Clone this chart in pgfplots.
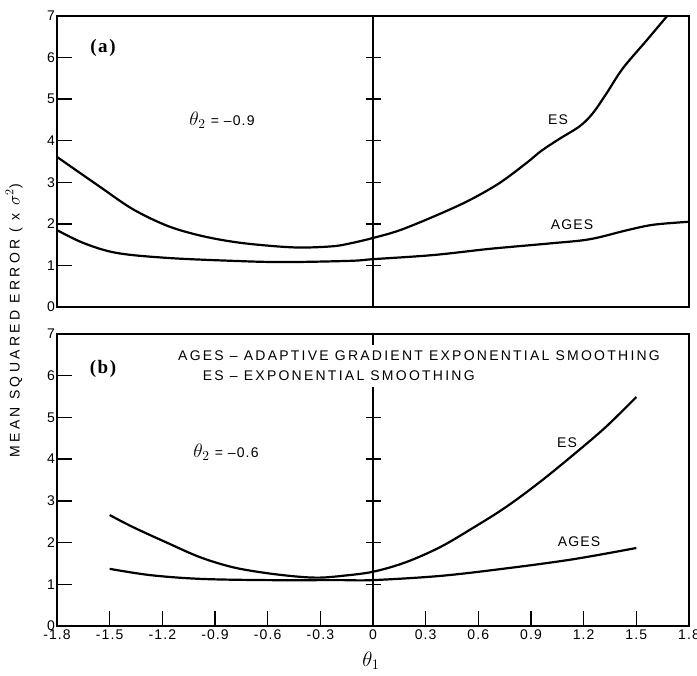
\documentclass[border=0pt]{standalone}
\usepackage{fontspec}
\usepackage{graphicx}
\setmainfont{Liberation Sans}
\newfontfamily\serifab{Liberation Serif}
\usepackage{pgfplots}
\pgfplotsset{compat=1.18}

\pgfplotstableread{
x y
-1.8 3.61
-1.555 2.89
-1.367 2.35
-1.17 1.95
-0.986 1.72
-0.80 1.57
-0.61 1.48
-0.42 1.43
-0.23 1.46
-0.13 1.53
0 1.66
0.155 1.85
0.37 2.22
0.55 2.57
0.72 2.98
0.876 3.47
0.96 3.76
1.064 4.05
1.178 4.35
1.252 4.66
1.332 5.15
1.423 5.74
1.56 6.42
1.69 7.07
1.74 7.3
}\topes
\pgfplotstableread{
x y
-1.8 1.85
-1.65 1.54
-1.46 1.30
-1.17 1.18
-0.80 1.11
-0.51 1.08
-0.13 1.11
0 1.15
0.345 1.25
0.668 1.40
1.01 1.53
1.235 1.63
1.45 1.85
1.6 1.98
1.8 2.05
}\topages
\pgfplotstableread{
x y
-1.5 2.66
-1.367 2.37
-1.17 1.99
-0.986 1.65
-0.80 1.41
-0.61 1.27
-0.42 1.18
-0.30 1.16
-0.18 1.20
0 1.30
0.188 1.53
0.382 1.89
0.569 2.35
0.757 2.85
0.95 3.45
1.14 4.10
1.326 4.77
1.5 5.49
}\botes
\pgfplotstableread{
x y
-1.5 1.37
-1.27 1.22
-0.986 1.13
-0.61 1.10
-0.2 1.10
0 1.10
0.382 1.20
0.757 1.38
1.14 1.60
1.5 1.87
}\botages

\newcommand\lab{\fontsize{14}{16}\selectfont\addfontfeatures{LetterSpace=8}}

\begin{document}
\begin{tikzpicture}
\path[use as bounding box] (0pt,0pt) rectangle (697pt,676pt);
\pgfplotsset{
  panel/.style={
    scale only axis, width=632pt,
    xmin=-1.8, xmax=1.8, ymin=0, ymax=7,
    axis line style={line width=1.4pt},
    tick align=inside, major tick length=15pt,
    every tick/.style={black, line width=1.4pt},
    ytick={0,1,2,3,4,5,6,7},
    yticklabels={0,1,2,3,4,5,6,7},
    yticklabel style={font=\lab, inner sep=2pt},
    xticklabel style={font=\lab},
    ytick pos=left, xtick pos=bottom,
    anchor=south west,
  },
  curve/.style={black, line width=2.2pt, smooth, tension=0.55, no marks},
}
% top panel
\begin{axis}[panel, at={(57pt,369pt)}, height=291pt, xtick=\empty]
\draw[line width=1.4pt] (axis cs:0,0) -- (axis cs:0,7);
\pgfplotsinvokeforeach{1,2,3,4,5,6}{
  \draw[line width=1.4pt] ([xshift=-7.5pt]axis cs:0,#1) -- ([xshift=7.5pt]axis cs:0,#1);
}
\addplot[curve] table[x=x,y=y] {\topes};
\addplot[curve] table[x=x,y=y] {\topages};
\end{axis}
% bottom panel
\begin{axis}[panel, at={(57pt,50pt)}, height=292pt,
  xtick={-1.8,-1.5,-1.2,-0.9,-0.6,-0.3,0,0.3,0.6,0.9,1.2,1.5,1.8},
  xticklabels={-1.8,-1.5,-1.2,-0.9,-0.6,-0.3,0,0.3,0.6,0.9,1.2,1.5,1.8}]
\draw[line width=1.4pt] (axis cs:0,0) -- (axis cs:0,7);
\pgfplotsinvokeforeach{1,2,3,4,5}{
  \draw[line width=1.4pt] ([xshift=-7.5pt]axis cs:0,#1) -- ([xshift=7.5pt]axis cs:0,#1);
}
\addplot[curve] table[x=x,y=y] {\botes};
\addplot[curve] table[x=x,y=y] {\botages};
\end{axis}

% texts
\node[font=\serifab\bfseries\fontsize{19}{21}\selectfont\addfontfeatures{LetterSpace=8}] at (103pt,628pt) {(a)};
\node[font=\serifab\bfseries\fontsize{19}{21}\selectfont\addfontfeatures{LetterSpace=8}] at (103pt,307pt) {(b)};
\node[font=\fontsize{14}{17}\selectfont\addfontfeatures{LetterSpace=8}] at (222pt,556pt) {\scalebox{1.35}{$\theta_2$} = --0.9};
\node[font=\fontsize{14}{17}\selectfont\addfontfeatures{LetterSpace=8}] at (226pt,224pt) {\scalebox{1.35}{$\theta_2$} = --0.6};
\node[font=\lab] at (558pt,556pt) {ES};
\node[font=\lab] at (572pt,451pt) {AGES};
\node[font=\lab] at (567pt,233pt) {ES};
\node[font=\lab] at (579pt,134pt) {AGES};
\node[fill=white, inner sep=1pt, anchor=north west, font=\fontsize{14}{20}\selectfont\addfontfeatures{LetterSpace=16}] at (177pt,331pt)
  {\begin{tabular}{@{}r@{\ --\ }l@{}}AGES & ADAPTIVE GRADIENT EXPONENTIAL SMOOTHING\\ ES & EXPONENTIAL SMOOTHING\end{tabular}};
\node[rotate=90, font=\fontsize{14}{16}\selectfont\addfontfeatures{LetterSpace=24}] at (14pt,355pt) {MEAN SQUARED ERROR ( x \scalebox{1.2}{$\sigma^2$})};
\node[font=\fontsize{14}{16}\selectfont] at (371pt,15pt) {\scalebox{1.45}{$\theta_1$}};
\end{tikzpicture}
\end{document}
